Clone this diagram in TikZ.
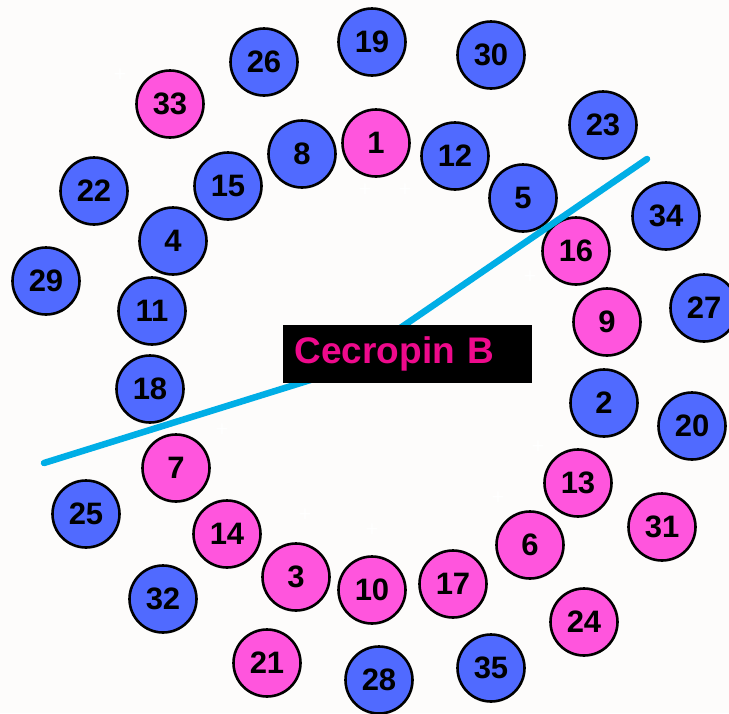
\documentclass[tikz,border=0pt]{standalone}
\usepackage{fontspec}
\setmainfont{Liberation Sans}
\begin{document}
\begin{tikzpicture}[x=1pt,y=-1pt,
  res/.style={circle,draw=black,line width=2.6pt,minimum size=67pt,inner sep=0pt,font=\fontsize{31}{31}\selectfont\bfseries},
  bl/.style={res,fill=resblue},
  pk/.style={res,fill=respink},
  plus/.style={text=white,font=\fontsize{22}{22}\selectfont},
  helix/.style={draw=cyanline,line width=6.5pt,line cap=round,line join=round}]
\definecolor{resblue}{RGB}{80,106,255}
\definecolor{respink}{RGB}{255,85,221}
\definecolor{cyanline}{RGB}{0,174,230}
\definecolor{titlepink}{RGB}{238,10,140}
\definecolor{bgcol}{RGB}{253,252,251}
\fill[bgcol] (0,0) rectangle (729,713);
\useasboundingbox (0,0) rectangle (729,713);
% faint plus marks
\node[plus] (p1) at (120,75) {+};
\node[plus] (p2) at (365,190) {+};
\node[plus] (p3) at (405,190) {+};
\node[plus] (p4) at (222,430) {+};
\node[plus] (p5) at (305,515) {+};
\node[plus] (p6) at (372,530) {+};
\node[plus] (p7) at (530,277) {+};
\node[plus] (p8) at (538,447) {+};
\node[plus] (p9) at (498,498) {+};
% residues
\node[bl] (r19) at (372,42) {19};
\node[bl] (r26) at (264,62) {26};
\node[bl] (r30) at (491,55) {30};
\node[pk] (r33) at (170,104) {33};
\node[bl] (r23) at (603,125) {23};
\node[pk] (r1) at (376,143) {1};
\node[bl] (r12) at (455,156) {12};
\node[bl] (r8) at (302,154) {8};
\node[bl] (r15) at (228,186) {15};
\node[bl] (r22) at (94,191) {22};
\node[bl] (r5) at (523,198) {5};
\node[bl] (r34) at (666,216) {34};
\node[pk] (r16) at (576,251) {16};
\node[bl] (r4) at (173,241) {4};
\node[bl] (r29) at (46,281) {29};
\node[bl] (r11) at (152,311) {11};
\node[pk] (r9) at (607,322) {9};
\node[bl] (r27) at (704,308) {27};
\node[bl] (r18) at (150,389) {18};
\node[bl] (r2) at (604,403) {2};
\node[bl] (r20) at (692,426) {20};
\node[pk] (r7) at (176,468) {7};
\node[pk] (r13) at (578,483) {13};
\node[bl] (r25) at (86,514) {25};
\node[pk] (r31) at (662,527) {31};
\node[pk] (r14) at (227,534) {14};
\node[pk] (r6) at (530,545) {6};
\node[pk] (r3) at (296,577) {3};
\node[pk] (r10) at (372,590) {10};
\node[pk] (r17) at (453,584) {17};
\node[bl] (r32) at (163,599) {32};
\node[pk] (r24) at (584,622) {24};
\node[pk] (r21) at (267,663) {21};
\node[bl] (r28) at (379,680) {28};
\node[bl] (r35) at (491,668) {35};
% helix axis line
\coordinate (hA) at (44,463);
\coordinate (hB) at (336,372);
\coordinate (hC) at (647,159);
\draw[helix] (hA) -- (hB) -- (hC);
% title box
\node[fill=black,text=titlepink,anchor=north west,minimum width=249pt,minimum height=58pt,inner sep=0pt,align=left,text width=238pt,font=\fontsize{37}{37}\selectfont\bfseries] (title) at (283,325) {\hspace*{6pt}Cecropin B};
\end{tikzpicture}
\end{document}
